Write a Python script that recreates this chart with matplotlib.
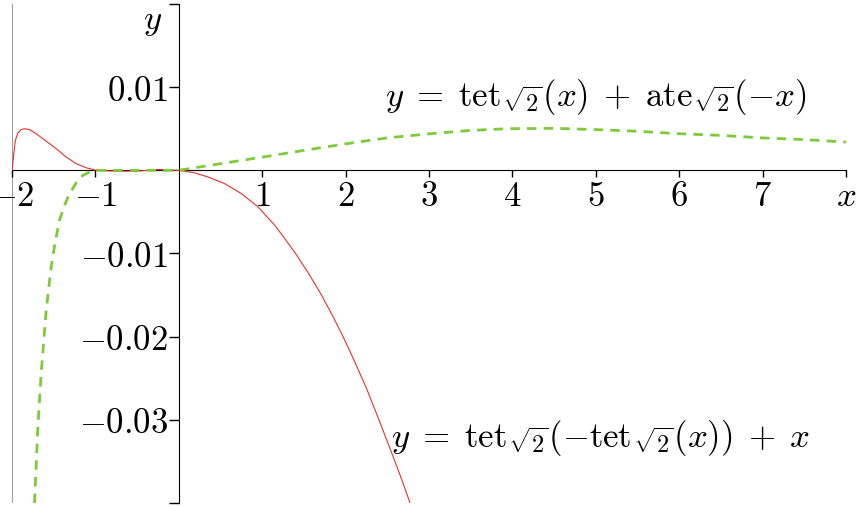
import matplotlib
matplotlib.use("Agg")
import matplotlib.pyplot as plt

plt.rcParams["mathtext.fontset"] = "cm"

# red curve: y = tet(-tet(x)) + x
red_x = [-2.0, -1.98, -1.96, -1.93, -1.89, -1.85, -1.79, -1.71, -1.59, -1.47, -1.35,
         -1.23, -1.11, -0.99, -0.75, -0.5, -0.25, 0.0, 0.19, 0.35, 0.55, 0.75, 0.95,
         1.15, 1.27, 1.40, 1.55, 1.70, 1.85, 1.97, 2.10, 2.25, 2.40, 2.55, 2.67, 2.78]
red_y = [0.0, 0.0018, 0.0036, 0.0045, 0.0049, 0.0050, 0.0049, 0.0044, 0.0035, 0.0026, 0.0016,
         0.0008, 0.0003, 0.0, -0.0001, -0.0001, 0.0001, 0.0, -0.0003, -0.0008, -0.0016, -0.0028,
         -0.0044, -0.0066, -0.0082, -0.0100, -0.0123, -0.0148, -0.0176, -0.0200, -0.0228,
         -0.0262, -0.0300, -0.0339, -0.0371, -0.0402]

# green curve: y = tet(x) + ate(-x)
grn_x = [-1.73, -1.69, -1.65, -1.59, -1.53, -1.48, -1.43, -1.37, -1.31, -1.23, -1.15, -1.07,
         -0.99, -0.5, 0.0, 0.5, 1.01, 1.5, 2.01, 2.5, 3.01, 3.5, 3.93, 4.5, 5.0, 5.5, 6.0,
         6.5, 7.0, 7.5, 8.0]
grn_y = [-0.040, -0.0309, -0.0244, -0.0168, -0.0116, -0.0085, -0.0060, -0.0042, -0.0028,
         -0.0015, -0.0006, -0.0002, 0.0, 0.0, 0.0, 0.0008, 0.0016, 0.0024, 0.0032, 0.0039,
         0.0044, 0.0048, 0.0050, 0.00505, 0.0049, 0.0047, 0.0044, 0.0042, 0.0039, 0.0037,
         0.0034]

xticks = [-2, -1, 1, 2, 3, 4, 5, 6, 7, 8]
xlabels = [r"$-2$", r"$-1$", r"$1$", r"$2$", r"$3$", r"$4$", r"$5$", r"$6$", r"$7$", r"$x$"]
yticks = [-0.04, -0.03, -0.02, -0.01, 0.01, 0.02]
ylabels = ["", r"$-0.03$", r"$-0.02$", r"$-0.01$", r"$0.01$", ""]

FS = 25

fig = plt.figure(figsize=(8.56, 5.07), dpi=100)
ax = fig.add_axes([12/856, 4/507, 834/856, 499/507])
ax.set_xlim(-2, 8)
ax.set_ylim(-0.04, 0.02)

ax.axvline(-2, color="#9a9a9a", lw=1.5, zorder=1)
ax.plot(red_x, red_y, color="#e8302f", lw=0.8, zorder=3)
ax.plot(grn_x, grn_y, color="#7dcb3a", lw=2.0, dashes=(3.4, 2.6), zorder=4)

for s in ["top", "right"]:
    ax.spines[s].set_visible(False)
ax.spines["left"].set_position(("data", 0))
ax.spines["bottom"].set_position(("data", 0))

ax.set_xticks(xticks)
ax.set_xticklabels(xlabels)
ax.set_yticks(yticks)
ax.set_yticklabels(ylabels)
ax.tick_params(axis="x", direction="out", length=5, width=1, pad=1, labelsize=FS)
ax.tick_params(axis="y", direction="out", length=7, width=1, pad=1, labelsize=FS)

ax.text(-0.32, 0.018, r"$y$", fontsize=FS, ha="center", va="center")
ax.text(2.47, 0.0077,
        r"$y\;=\;\mathrm{tet}_{\sqrt{2}}(x)\;+\;\mathrm{ate}_{\sqrt{2}}(-x)$",
        fontsize=FS, ha="left", va="baseline")
ax.text(2.55, -0.0333,
        r"$y\;=\;\mathrm{tet}_{\sqrt{2}}(-\mathrm{tet}_{\sqrt{2}}(x))\;+\;x$",
        fontsize=FS, ha="left", va="baseline")

fig.savefig("out.png", dpi=100, facecolor="white")
